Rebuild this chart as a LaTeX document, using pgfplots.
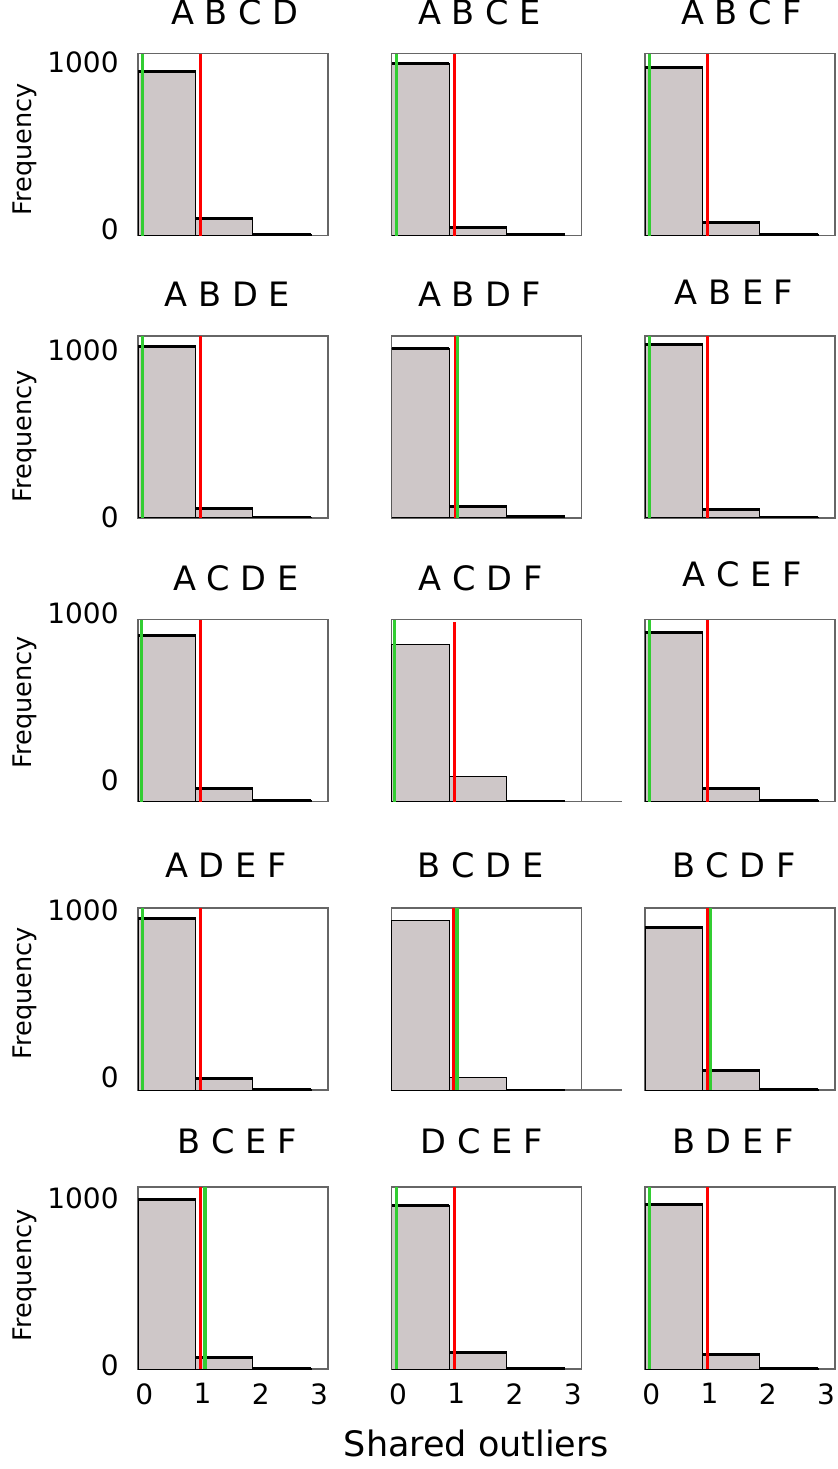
\documentclass[border=0pt]{standalone}
\usepackage{pgfplots}
\pgfplotsset{compat=1.18}
\usepackage{fontspec}
\setmainfont{DejaVu Sans}
\definecolor{barfill}{RGB}{206,199,200}
\definecolor{gcol}{RGB}{50,205,50}
\definecolor{rcol}{RGB}{255,0,0}
\pgfplotsset{
  hp/.style={scale only axis, width=95pt, height=91pt,
    xmin=-0.08, xmax=3.18, ymin=0, ymax=1090,
    axis line style={draw=black!60, line width=0.6pt},
    xtick=\empty, ytick=\empty, major tick length=0pt,
    title style={font=\fontsize{16.8}{16.8}\selectfont, inner sep=0pt, anchor=south, at={(0.5,1)}},
    anchor=south west},
  hist/.style={ybar interval, fill=barfill, draw=black, line width=0.5pt},
  tops/.style={black, line width=1.5pt, unbounded coords=jump},
  gln/.style={gcol, line width=1.7pt},
  rln/.style={rcol, line width=1.5pt},
  leftcol/.style={ytick={0,1000}, yticklabels={0,1000},
    yticklabel style={font=\fontsize{14}{14}\selectfont, anchor=east, inner sep=0pt, xshift=-9.5pt, yshift=#1},
    ylabel={Frequency},
    ylabel style={font=\fontsize{12.8}{12.8}\selectfont, inner sep=0pt, anchor=center}},
  botrow/.style={xtick={0,1,2,3}, xticklabels={0,1,2,3},
    xticklabel style={font=\fontsize{14}{14}\selectfont, anchor=north, inner sep=0pt, yshift=-7pt, xshift=0.8pt}},
}
\begin{document}
\begin{tikzpicture}
\useasboundingbox (0,0) rectangle (419pt,-734.5pt);
% ---------------- Row 1 ----------------
\begin{axis}[hp, at={(69pt,-117.85pt)}, leftcol=3.35pt,
  ylabel style={at={(axis description cs:-0.595,0.476)}},
  title={A B C D}, title style={xshift=1pt, yshift=8pt}]
\addplot[hist] coordinates {(-0.08,985) (0.91,104) (1.89,8) (2.89,8)};
\addplot[tops] coordinates {(-0.08,985) (0.91,985) (0.91,nan) (0.91,104) (1.89,104) (1.89,nan) (1.89,8) (2.89,8)};
\addplot[gln] coordinates {(0,0) (0,1090)};
\addplot[rln] coordinates {(1,0) (1,1090)};
\end{axis}
\begin{axis}[hp, at={(195.85pt,-117.85pt)},
  title={A B C E}, title style={xshift=-3.5pt, yshift=8pt}]
\addplot[hist] coordinates {(-0.08,1033) (0.91,52) (1.89,5) (2.89,5)};
\addplot[tops] coordinates {(-0.08,1033) (0.91,1033) (0.91,nan) (0.91,52) (1.89,52) (1.89,nan) (1.89,5) (2.89,5)};
\addplot[gln] coordinates {(0,0) (0,1090)};
\addplot[rln] coordinates {(1,0) (1,1090)};
\end{axis}
\begin{axis}[hp, at={(322.5pt,-117.85pt)},
  title={A B C F}, title style={xshift=0.75pt, yshift=8pt}]
\addplot[hist] coordinates {(-0.08,1006) (0.91,78) (1.89,5) (2.89,5)};
\addplot[tops] coordinates {(-0.08,1006) (0.91,1006) (0.91,nan) (0.91,78) (1.89,78) (1.89,nan) (1.89,5) (2.89,5)};
\addplot[gln] coordinates {(0,0) (0,1090)};
\addplot[rln] coordinates {(1,0) (1,1090)};
\end{axis}
% ---------------- Row 2 ----------------
\begin{axis}[hp, at={(69pt,-258.95pt)}, leftcol=0.5pt,
  ylabel style={at={(axis description cs:-0.595,0.45)}},
  title={A B D E}, title style={xshift=-2.75pt, yshift=8.35pt}]
\addplot[hist] coordinates {(-0.08,1027) (0.91,54) (1.89,2) (2.89,2)};
\addplot[tops] coordinates {(-0.08,1027) (0.91,1027) (0.91,nan) (0.91,54) (1.89,54) (1.89,nan) (1.89,2) (2.89,2)};
\addplot[gln] coordinates {(0,0) (0,1090)};
\addplot[rln] coordinates {(1,0) (1,1090)};
\end{axis}
\begin{axis}[hp, at={(195.85pt,-258.95pt)},
  title={A B D F}, title style={xshift=-3.5pt, yshift=8.35pt}]
\addplot[hist] coordinates {(-0.08,1012) (0.91,69) (1.89,8) (2.89,8)};
\addplot[tops] coordinates {(-0.08,1012) (0.91,1012) (0.91,nan) (0.91,69) (1.89,69) (1.89,nan) (1.89,8) (2.89,8)};
\addplot[rln] coordinates {(1.01,0) (1.01,1090)};
\addplot[gln] coordinates {(1.05,0) (1.05,1090)};
\end{axis}
\begin{axis}[hp, at={(322.5pt,-258.95pt)},
  title={A B E F}, title style={xshift=-3pt, yshift=9.65pt}]
\addplot[hist] coordinates {(-0.08,1036) (0.91,48) (1.89,2) (2.89,2)};
\addplot[tops] coordinates {(-0.08,1036) (0.91,1036) (0.91,nan) (0.91,48) (1.89,48) (1.89,nan) (1.89,2) (2.89,2)};
\addplot[gln] coordinates {(0,0) (0,1090)};
\addplot[rln] coordinates {(1,0) (1,1090)};
\end{axis}
% ---------------- Row 3 ----------------
\begin{axis}[hp, at={(69pt,-400.9pt)}, leftcol=10.75pt,
  ylabel style={at={(axis description cs:-0.595,0.548)}},
  title={A C D E}, title style={xshift=1.5pt, yshift=8.35pt}]
\addplot[hist] coordinates {(-0.08,997) (0.91,78) (1.89,10) (2.89,10)};
\addplot[tops] coordinates {(-0.08,997) (0.91,997) (0.91,nan) (0.91,78) (1.89,78) (1.89,nan) (1.89,10) (2.89,10)};
\addplot[gln] coordinates {(-0.02,0) (-0.02,1090)};
\addplot[rln] coordinates {(1,0) (1,1090)};
\end{axis}
\begin{axis}[hp, at={(195.85pt,-400.9pt)}, clip=false,
  title={A C D F}, title style={xshift=-3pt, yshift=8.35pt}]
\addplot[hist] coordinates {(-0.08,943) (0.91,150) (1.89,5) (2.89,5)};
\addplot[black!60, line width=0.6pt] coordinates {(3.18,0) (3.87,0)};
\addplot[gln] coordinates {(-0.03,0) (-0.03,1090)};
\addplot[rln] coordinates {(1,0) (1,1074)};
\end{axis}
\begin{axis}[hp, at={(322.5pt,-400.9pt)},
  title={A C E F}, title style={xshift=1pt, yshift=10pt}]
\addplot[hist] coordinates {(-0.08,1012) (0.91,78) (1.89,5) (2.89,5)};
\addplot[tops] coordinates {(-0.08,1012) (0.91,1012) (0.91,nan) (0.91,78) (1.89,78) (1.89,nan) (1.89,5) (2.89,5)};
\addplot[gln] coordinates {(0,0) (0,1090)};
\addplot[rln] coordinates {(1,0) (1,1090)};
\end{axis}
% ---------------- Row 4 ----------------
\begin{axis}[hp, at={(69pt,-545pt)}, leftcol=6.25pt,
  ylabel style={at={(axis description cs:-0.595,0.533)}},
  title={A D E F}, title style={xshift=-3.5pt, yshift=8.85pt}]
\addplot[hist] coordinates {(-0.08,1030) (0.91,66) (1.89,5) (2.89,5)};
\addplot[tops] coordinates {(-0.08,1030) (0.91,1030) (0.91,nan) (0.91,66) (1.89,66) (1.89,nan) (1.89,5) (2.89,5)};
\addplot[gln] coordinates {(0,0) (0,1090)};
\addplot[rln] coordinates {(1,0) (1,1090)};
\end{axis}
\begin{axis}[hp, at={(195.85pt,-545pt)}, clip=false,
  title={B C D E}, title style={xshift=-3pt, yshift=8.85pt}]
\addplot[hist] coordinates {(-0.08,1014) (0.91,74) (1.89,5) (2.89,5)};
\addplot[black!60, line width=0.6pt] coordinates {(3.18,0) (3.87,0)};
\addplot[rln] coordinates {(0.98,0) (0.98,1090)};
\addplot[gln] coordinates {(1.04,0) (1.04,1090)};
\end{axis}
\begin{axis}[hp, at={(322.5pt,-545pt)},
  title={B C D F}, title style={xshift=-3pt, yshift=8.85pt}]
\addplot[hist] coordinates {(-0.08,974) (0.91,116) (1.89,5) (2.89,5)};
\addplot[tops] coordinates {(-0.08,974) (0.91,974) (0.91,nan) (0.91,116) (1.89,116) (1.89,nan) (1.89,5) (2.89,5)};
\addplot[rln] coordinates {(1,0) (1,1090)};
\addplot[gln] coordinates {(1.04,0) (1.04,1090)};
\end{axis}
% ---------------- Row 5 ----------------
\begin{axis}[hp, at={(69pt,-684.5pt)}, leftcol=1.75pt, botrow,
  ylabel style={at={(axis description cs:-0.595,0.516)}},
  title={B C E F}, title style={xshift=2pt, yshift=10.5pt}]
\addplot[hist] coordinates {(-0.08,1016) (0.91,68) (1.89,4) (2.89,4)};
\addplot[tops] coordinates {(-0.08,1016) (0.91,1016) (0.91,nan) (0.91,68) (1.89,68) (1.89,nan) (1.89,4) (2.89,4)};
\addplot[rln] coordinates {(1,0) (1,1090)};
\addplot[gln] coordinates {(1.07,0) (1.07,1090)};
\end{axis}
\begin{axis}[hp, at={(195.85pt,-684.5pt)}, botrow,
  xlabel={Shared outliers},
  xlabel style={font=\fontsize{17.5}{17.5}\selectfont, inner sep=0pt, anchor=center, at={(axis description cs:0.446,-0.408)}},
  title={D C E F}, title style={xshift=-2.5pt, yshift=10.5pt}]
\addplot[hist] coordinates {(-0.08,982) (0.91,96) (1.89,5) (2.89,5)};
\addplot[tops] coordinates {(-0.08,982) (0.91,982) (0.91,nan) (0.91,96) (1.89,96) (1.89,nan) (1.89,5) (2.89,5)};
\addplot[gln] coordinates {(0,0) (0,1090)};
\addplot[rln] coordinates {(1,0) (1,1090)};
\end{axis}
\begin{axis}[hp, at={(322.5pt,-684.5pt)}, botrow,
  title={B D E F}, title style={xshift=-3.5pt, yshift=10.5pt}]
\addplot[hist] coordinates {(-0.08,988) (0.91,84) (1.89,5) (2.89,5)};
\addplot[tops] coordinates {(-0.08,988) (0.91,988) (0.91,nan) (0.91,84) (1.89,84) (1.89,nan) (1.89,5) (2.89,5)};
\addplot[gln] coordinates {(0,0) (0,1090)};
\addplot[rln] coordinates {(1,0) (1,1090)};
\end{axis}
\end{tikzpicture}
\end{document}
